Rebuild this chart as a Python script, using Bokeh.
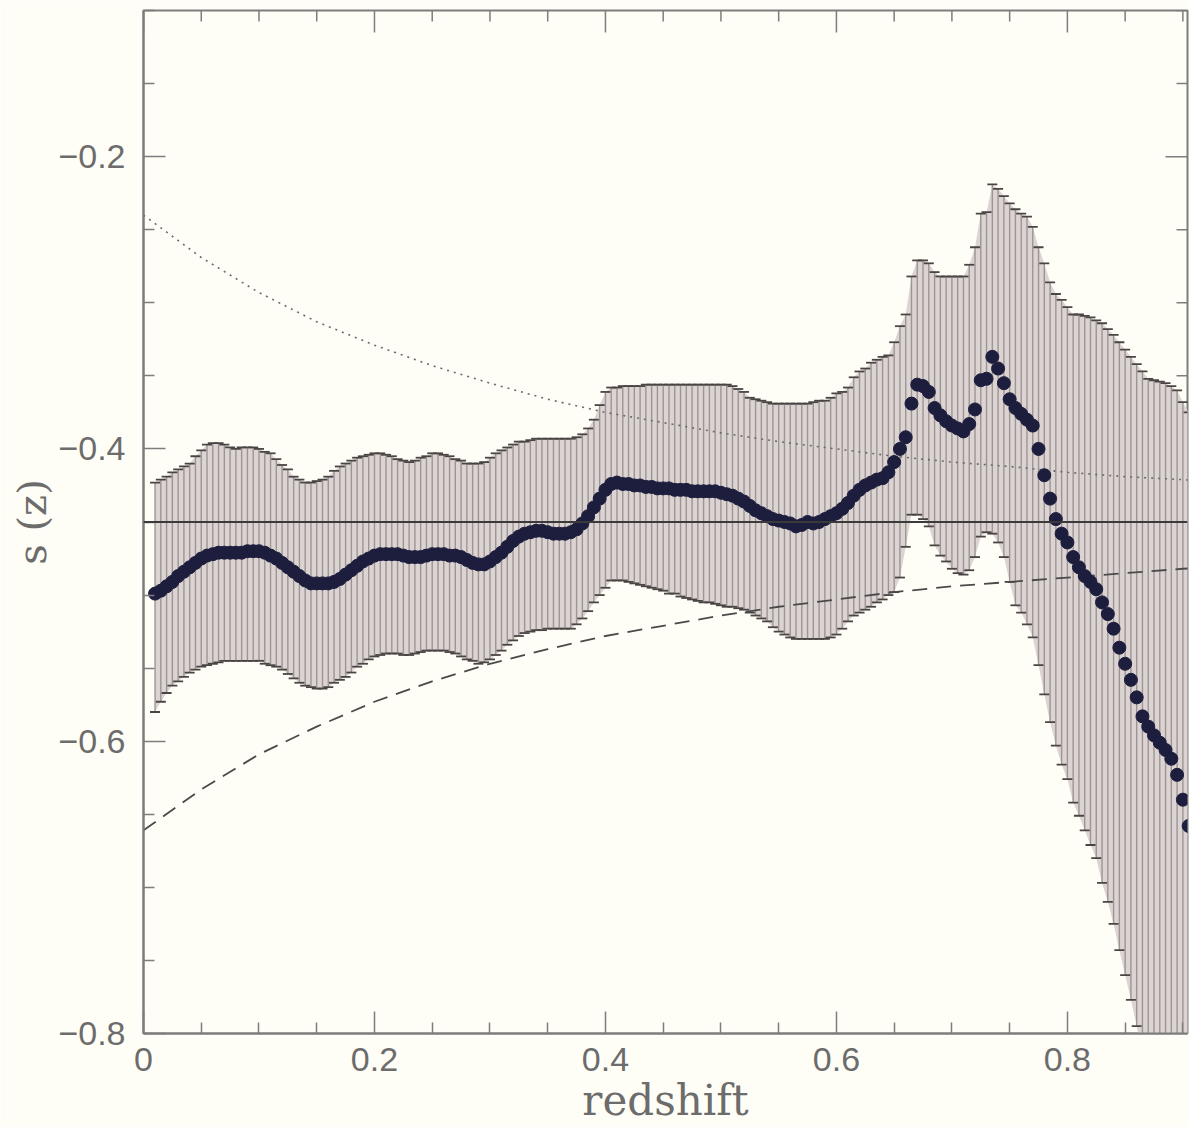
import math
from bokeh.plotting import figure
from bokeh.models import (FixedTicker, Span, CustomJSTickFormatter,
                          Range1d, ColumnDataSource)
from bokeh.embed import file_html
from bokeh.resources import INLINE

# ---------------- data ----------------
z = [0.010, 0.015, 0.020, 0.025, 0.030, 0.035, 0.040, 0.045, 0.050, 0.055,
     0.060, 0.065, 0.070, 0.075, 0.080, 0.085, 0.090, 0.095, 0.100, 0.105,
     0.110, 0.115, 0.120, 0.125, 0.130, 0.135, 0.140, 0.145, 0.150, 0.155,
     0.160, 0.165, 0.170, 0.175, 0.180, 0.185, 0.190, 0.195, 0.200, 0.205,
     0.210, 0.215, 0.220, 0.225, 0.230, 0.235, 0.240, 0.245, 0.250, 0.255,
     0.260, 0.265, 0.270, 0.275, 0.280, 0.285, 0.290, 0.295, 0.300, 0.305,
     0.310, 0.315, 0.320, 0.325, 0.330, 0.335, 0.340, 0.345, 0.350, 0.355,
     0.360, 0.365, 0.370, 0.375, 0.380, 0.385, 0.390, 0.395, 0.400, 0.405,
     0.410, 0.415, 0.420, 0.425, 0.430, 0.435, 0.440, 0.445, 0.450, 0.455,
     0.460, 0.465, 0.470, 0.475, 0.480, 0.485, 0.490, 0.495, 0.500, 0.505,
     0.510, 0.515, 0.520, 0.525, 0.530, 0.535, 0.540, 0.545, 0.550, 0.555,
     0.560, 0.565, 0.570, 0.575, 0.580, 0.585, 0.590, 0.595, 0.600, 0.605,
     0.610, 0.615, 0.620, 0.625, 0.630, 0.635, 0.640, 0.645, 0.650, 0.655,
     0.660, 0.665, 0.670, 0.675, 0.680, 0.685, 0.690, 0.695, 0.700, 0.705,
     0.710, 0.715, 0.720, 0.725, 0.730, 0.735, 0.740, 0.745, 0.750, 0.755,
     0.760, 0.765, 0.770, 0.775, 0.780, 0.785, 0.790, 0.795, 0.800, 0.805,
     0.810, 0.815, 0.820, 0.825, 0.830, 0.835, 0.840, 0.845, 0.850, 0.855,
     0.860, 0.865, 0.870, 0.875, 0.880, 0.885, 0.890, 0.895, 0.900, 0.905]

s_z = [-0.499, -0.497, -0.494, -0.491, -0.487, -0.484, -0.481, -0.478, -0.475, -0.473,
       -0.472, -0.471, -0.471, -0.471, -0.471, -0.471, -0.470, -0.470, -0.470, -0.471,
       -0.473, -0.475, -0.478, -0.481, -0.484, -0.487, -0.490, -0.492, -0.492, -0.492,
       -0.492, -0.491, -0.489, -0.486, -0.483, -0.480, -0.477, -0.475, -0.473, -0.472,
       -0.472, -0.472, -0.472, -0.473, -0.474, -0.474, -0.474, -0.473, -0.472, -0.472,
       -0.472, -0.473, -0.473, -0.474, -0.476, -0.478, -0.479, -0.479, -0.477, -0.474,
       -0.471, -0.467, -0.463, -0.460, -0.458, -0.457, -0.456, -0.456, -0.457, -0.458,
       -0.458, -0.458, -0.457, -0.455, -0.451, -0.446, -0.440, -0.434, -0.428, -0.424,
       -0.423, -0.424, -0.424, -0.425, -0.425, -0.426, -0.426, -0.427, -0.427, -0.427,
       -0.428, -0.428, -0.428, -0.429, -0.429, -0.429, -0.429, -0.429, -0.430, -0.431,
       -0.432, -0.434, -0.436, -0.439, -0.442, -0.444, -0.446, -0.448, -0.449, -0.450,
       -0.451, -0.453, -0.452, -0.450, -0.451, -0.450, -0.448, -0.446, -0.444, -0.441,
       -0.437, -0.432, -0.428, -0.425, -0.423, -0.421, -0.420, -0.416, -0.409, -0.400,
       -0.392, -0.369, -0.356, -0.357, -0.361, -0.372, -0.377, -0.381, -0.384, -0.386,
       -0.388, -0.383, -0.373, -0.353, -0.352, -0.337, -0.345, -0.355, -0.366, -0.372,
       -0.376, -0.380, -0.384, -0.400, -0.418, -0.434, -0.448, -0.458, -0.464, -0.474,
       -0.481, -0.487, -0.491, -0.496, -0.505, -0.513, -0.523, -0.536, -0.547, -0.558,
       -0.570, -0.583, -0.590, -0.596, -0.601, -0.606, -0.612, -0.623, -0.640, -0.658]

s_upper = [-0.423, -0.421, -0.419, -0.416, -0.414, -0.412, -0.410, -0.405, -0.401, -0.397,
           -0.396, -0.396, -0.397, -0.399, -0.400, -0.399, -0.399, -0.399, -0.400, -0.402,
           -0.403, -0.407, -0.411, -0.414, -0.419, -0.421, -0.423, -0.423, -0.422, -0.421,
           -0.419, -0.415, -0.412, -0.410, -0.408, -0.406, -0.405, -0.404, -0.403, -0.403,
           -0.404, -0.405, -0.407, -0.408, -0.409, -0.408, -0.406, -0.405, -0.403, -0.403,
           -0.404, -0.405, -0.407, -0.408, -0.410, -0.410, -0.410, -0.409, -0.406, -0.403,
           -0.401, -0.399, -0.397, -0.395, -0.395, -0.394, -0.393, -0.393, -0.393, -0.393,
           -0.393, -0.393, -0.393, -0.392, -0.390, -0.386, -0.380, -0.370, -0.361, -0.358,
           -0.358, -0.357, -0.357, -0.357, -0.357, -0.356, -0.356, -0.356, -0.356, -0.356,
           -0.356, -0.356, -0.356, -0.356, -0.356, -0.356, -0.356, -0.356, -0.356, -0.356,
           -0.357, -0.359, -0.361, -0.365, -0.366, -0.367, -0.368, -0.369, -0.369, -0.369,
           -0.369, -0.369, -0.369, -0.369, -0.368, -0.367, -0.367, -0.365, -0.362, -0.361,
           -0.358, -0.351, -0.347, -0.345, -0.341, -0.339, -0.337, -0.336, -0.327, -0.316,
           -0.308, -0.282, -0.271, -0.271, -0.273, -0.279, -0.282, -0.282, -0.282, -0.282,
           -0.282, -0.274, -0.262, -0.239, -0.238, -0.219, -0.222, -0.227, -0.232, -0.236,
           -0.239, -0.241, -0.248, -0.262, -0.273, -0.286, -0.294, -0.298, -0.303, -0.308,
           -0.308, -0.309, -0.310, -0.312, -0.314, -0.318, -0.322, -0.327, -0.332, -0.337,
           -0.342, -0.347, -0.352, -0.353, -0.354, -0.355, -0.357, -0.360, -0.368, -0.375]

s_lower = [-0.580, -0.573, -0.567, -0.562, -0.559, -0.556, -0.553, -0.551, -0.549, -0.548,
           -0.547, -0.546, -0.545, -0.545, -0.545, -0.545, -0.545, -0.545, -0.545, -0.547,
           -0.548, -0.549, -0.551, -0.554, -0.557, -0.560, -0.562, -0.563, -0.564, -0.564,
           -0.563, -0.560, -0.558, -0.556, -0.553, -0.549, -0.547, -0.544, -0.542, -0.541,
           -0.540, -0.540, -0.540, -0.541, -0.541, -0.540, -0.539, -0.538, -0.538, -0.538,
           -0.538, -0.539, -0.540, -0.542, -0.544, -0.545, -0.547, -0.546, -0.544, -0.541,
           -0.538, -0.534, -0.531, -0.528, -0.526, -0.525, -0.524, -0.524, -0.523, -0.523,
           -0.523, -0.523, -0.523, -0.520, -0.516, -0.511, -0.505, -0.500, -0.495, -0.490,
           -0.490, -0.490, -0.491, -0.492, -0.493, -0.494, -0.495, -0.496, -0.497, -0.499,
           -0.499, -0.501, -0.502, -0.503, -0.504, -0.505, -0.505, -0.506, -0.507, -0.508,
           -0.508, -0.509, -0.510, -0.512, -0.514, -0.516, -0.518, -0.522, -0.525, -0.527,
           -0.529, -0.530, -0.530, -0.530, -0.530, -0.530, -0.530, -0.529, -0.527, -0.523,
           -0.518, -0.514, -0.512, -0.510, -0.508, -0.505, -0.503, -0.500, -0.498, -0.488,
           -0.467, -0.445, -0.445, -0.448, -0.453, -0.466, -0.473, -0.477, -0.482, -0.485,
           -0.486, -0.483, -0.474, -0.460, -0.457, -0.458, -0.464, -0.474, -0.491, -0.507,
           -0.512, -0.520, -0.529, -0.548, -0.568, -0.587, -0.603, -0.616, -0.626, -0.642,
           -0.651, -0.661, -0.671, -0.680, -0.697, -0.710, -0.725, -0.743, -0.760, -0.777,
           -0.795, -0.815, -0.835, -0.855, -0.875, -0.895, -0.915, -0.935, -0.955, -0.975]

# model curves
z_model = [0.00, 0.05, 0.10, 0.15, 0.20, 0.25, 0.30, 0.35, 0.40, 0.45,
           0.50, 0.55, 0.60, 0.65, 0.70, 0.75, 0.80, 0.85, 0.90, 0.95]
s_dotted = [-0.240, -0.269, -0.293, -0.313, -0.329, -0.343, -0.355, -0.366, -0.375, -0.382,
            -0.389, -0.395, -0.400, -0.405, -0.409, -0.412, -0.416, -0.419, -0.421, -0.424]
s_dashed = [-0.661, -0.633, -0.609, -0.590, -0.573, -0.559, -0.547, -0.537, -0.528, -0.521,
            -0.514, -0.508, -0.503, -0.498, -0.494, -0.491, -0.488, -0.485, -0.482, -0.480]
s_reference = -0.45

X_MIN, X_MAX = 0.0, 0.904
Y_MIN, Y_MAX = -0.8, -0.1
x_major = [0.0, 0.2, 0.4, 0.6, 0.8]
x_minor = [0.05, 0.1, 0.15, 0.25, 0.3, 0.35, 0.45, 0.5, 0.55, 0.65, 0.7, 0.75, 0.85, 0.9]
y_major = [-0.8, -0.6, -0.4, -0.2]
y_minor = [-0.75, -0.7, -0.65, -0.55, -0.5, -0.45, -0.35, -0.3, -0.25, -0.15, -0.1]

assert len(z) == len(s_z) == len(s_upper) == len(s_lower)

# ---------------- styling ----------------
BG = "#fffef6"
AX = "#7d7d7d"
TXT = "#6c6c6c"
MAJ, MIN = 22, 11

p = figure(width=1189, height=1127, output_backend="svg", toolbar_location=None,
           x_range=Range1d(X_MIN, X_MAX), y_range=Range1d(Y_MIN, Y_MAX),
           min_border_left=143, min_border_right=2, min_border_top=10,
           min_border_bottom=94, background_fill_color=BG, border_fill_color=BG,
           outline_line_color=AX, outline_line_width=2)
p.grid.visible = False

fmt = CustomJSTickFormatter(code="""
if (Math.abs(tick) < 1e-9) { return "0"; }
return (tick < 0 ? "\\u2212" : "") + Math.abs(tick).toFixed(1);
""")

p.xaxis.ticker = FixedTicker(ticks=x_major, minor_ticks=x_minor)
p.yaxis.ticker = FixedTicker(ticks=y_major, minor_ticks=y_minor)
p.xaxis.formatter = fmt
p.yaxis.formatter = fmt
p.xaxis.axis_label = "redshift"
p.yaxis.axis_label = "s (z)"
for ax in p.xaxis + p.yaxis:
    ax.axis_line_color = AX
    ax.axis_line_width = 2
    ax.major_tick_line_color = AX
    ax.minor_tick_line_color = AX
    ax.major_tick_line_width = 1.5
    ax.minor_tick_line_width = 1.5
    ax.major_tick_in = MAJ
    ax.major_tick_out = 0
    ax.minor_tick_in = MIN
    ax.minor_tick_out = 0
    ax.major_label_text_font = "Liberation Sans"
    ax.major_label_text_font_size = "34px"
    ax.major_label_text_color = TXT
    ax.axis_label_text_font = "DejaVu Serif"
    ax.axis_label_text_font_size = "42px"
    ax.axis_label_text_font_style = "normal"
    ax.axis_label_text_color = TXT
p.yaxis.axis_label_text_font_size = "40px"
p.xaxis.major_label_standoff = 14
p.yaxis.major_label_standoff = 18
p.xaxis.axis_label_standoff = 2
p.yaxis.axis_label_standoff = 0

# mirrored inward ticks on the top and right frame edges
p.ray(x=x_major, y=[Y_MAX] * len(x_major), length=MAJ, length_units="screen",
      angle=-math.pi / 2, line_color=AX, line_width=1.5)
p.ray(x=x_minor, y=[Y_MAX] * len(x_minor), length=MIN, length_units="screen",
      angle=-math.pi / 2, line_color=AX, line_width=1.5)
p.ray(x=[X_MAX] * len(y_major), y=y_major, length=MAJ, length_units="screen",
      angle=math.pi, line_color=AX, line_width=1.5)
p.ray(x=[X_MAX] * len(y_minor), y=y_minor, length=MIN, length_units="screen",
      angle=math.pi, line_color=AX, line_width=1.5)

src = ColumnDataSource(dict(z=z, s=s_z, up=s_upper, lo=s_lower))

# error bars
p.varea(x="z", y1="lo", y2="up", source=src, fill_color="#dcd4d2")
p.segment(x0="z", y0="lo", x1="z", y1="up", source=src,
          line_color="#9d9494", line_width=1.4)
p.scatter(x="z", y="up", source=src, marker="dash", size=10,
          line_color="#4a4545", line_width=1.8)
p.scatter(x="z", y="lo", source=src, marker="dash", size=10,
          line_color="#4a4545", line_width=1.8)

# model curves and reference line
p.line(z_model, s_dotted, line_color="#6a6a6a", line_width=1.6, line_dash="2 5")
p.line(z_model, s_dashed, line_color="#4a4a4a", line_width=1.8, line_dash="15 9")
p.add_layout(Span(location=s_reference, dimension="width",
                  line_color="#3a3a3a", line_width=1.8))

# points
p.scatter(x="z", y="s", source=src, marker="circle", size=13,
          fill_color="#1d1d3d", line_color="#1d1d3d", line_width=1)

open("out.html", "w").write(file_html(p, INLINE))
